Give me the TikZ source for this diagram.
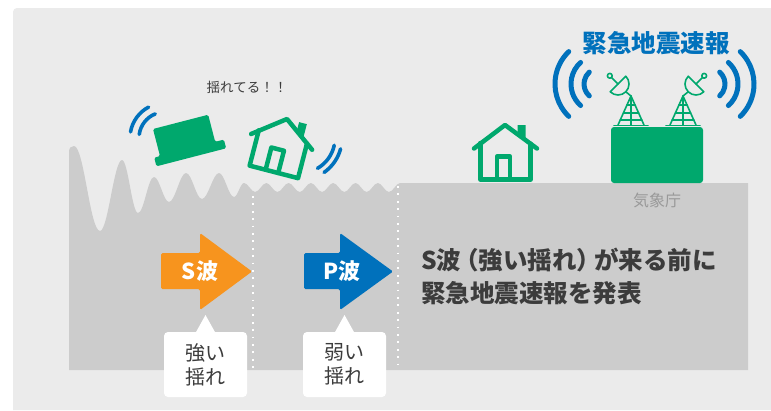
\documentclass[tikz,border=0pt]{standalone}
\usepackage{fontspec}
\newfontfamily\jp{Noto Sans CJK JP}
\definecolor{panelgray}{HTML}{EBEBEB}
\definecolor{groundgray}{HTML}{CCCCCC}
\definecolor{jgreen}{HTML}{00A86D}
\definecolor{jblue}{HTML}{0071BC}
\definecolor{jorange}{HTML}{F7941E}
\definecolor{inkgray}{HTML}{3C3C3C}
\definecolor{softgray}{HTML}{999999}

\tikzset{
  every node/.style={inner sep=0pt, outer sep=0pt},
  hline/.style={draw=jgreen, line width=4.5pt, line cap=round, line join=round},
  radiowave/.style={draw=jblue, line width=5pt, line cap=round},
  smallwave/.style={draw=jblue, line width=3.6pt, line cap=round},
  mast/.style={draw=jgreen, line width=1.6pt, line cap=round, line join=round},
  dotline/.style={draw=white, line width=1.8pt, dash pattern=on 1.8pt off 5.6pt},
  wavetag/.style={text=white, font=\jp\bfseries\fontsize{22}{26}\selectfont},
  callout/.style={fill=white, rounded corners=4pt, minimum width=83pt,
    minimum height=65pt, align=center, text=inkgray,
    font=\jp\fontsize{20}{24}\selectfont},
  leadtext/.style={anchor=west, text=inkgray, font=\jp\bfseries\fontsize{24.5}{29}\selectfont},
  % outlined house icon, origin at the roof apex (y grows downwards)
  house/.pic={
    \draw[hline] (-31,23.5) -- (0,0) -- (32,23.5);
    \draw[hline] (-24.5,18) -- (-24.5,54.5) -- (25.5,54.5) -- (25.5,18.7);
    \draw[hline] (-8,54.5) -- (-8,31.5) -- (5,31.5) -- (5,54.5);
    \fill[jgreen] (12.5,0) -- (20.5,0) -- (20.5,15) -- (12.5,9.2) -- cycle;
  },
  % lattice mast with a dish, origin at the mast top
  antenna/.pic={
    \draw[mast] (-13,29) -- (0,0) -- (13,29);
    \draw[mast] (-17,29.5) -- (17,29.5);
    \draw[mast] (0,0) -- (0,29);
    \draw[mast] (-4,9) -- (4,9);
    \draw[mast] (-7.6,17) -- (7.6,17);
    \draw[mast] (-10.8,24) -- (10.8,24);
    \draw[mast] (-13,-12) ++(-45:11) arc[start angle=-45, end angle=135, radius=11] -- cycle;
    \draw[mast] (-13,-12) -- ++(225:9);
    \draw[mast] (-13,-12) ++(225:11.6) circle[radius=2.4];
    \draw[mast] (-5.2,-4.2) -- (0,0);
  },
}

\begin{document}
\begin{tikzpicture}[x=1pt,y=-1pt]
\useasboundingbox (0,0) rectangle (771,410);
\fill[white] (0,0) rectangle (771,410);
\fill[panelgray] (13,410) -- (13,12) arc[start angle=180, end angle=270, radius=4]
  -- (771,8) -- (771,410) -- cycle;

% ground, with waves dying out towards the right
\fill[groundgray] (69,370) -- (69,152) .. controls +(0,-4) and +(-3,0) .. (74,146)
  .. controls +(10,0) and +(-10,0) .. (100,231)
  .. controls +(8,0) and +(-8,0) .. (122,160)
  .. controls +(6,0) and +(-6,0) .. (138,213)
  .. controls +(6,0) and +(-6,0) .. (154,177)
  .. controls +(5.5,0) and +(-5.5,0) .. (169,202)
  .. controls +(6,0) and +(-6,0) .. (186,173)
  .. controls +(6,0) and +(-6,0) .. (202,199)
  .. controls +(6,0) and +(-6,0) .. (219,173)
  .. controls +(5.5,0) and +(-5.5,0) .. (234,197)
  .. controls +(3.6,0) and +(-3.6,0) .. (244,183)
  \foreach \k in {0,...,6} {
    .. controls +(4,0) and +(-4,0) .. ({255.15+22.3*\k},192)
    .. controls +(4,0) and +(-4,0) .. ({266.3+22.3*\k},183)
  }
  -- (748,183) -- (748,370) -- cycle;

\draw[dotline] (253,196) -- (253,370);
\draw[dotline] (398,186) -- (398,370);

% toppled furniture and tilted house
\begin{scope}[shift={(153,129)}, rotate=14.5]
  \fill[jgreen, rounded corners=1.5pt] (0,0) -- (57,0) -- (57,28) -- (66,28)
    -- (66,37) -- (-6,37) -- (-6,28) -- (0,28) -- cycle;
\end{scope}
\pic[rotate=-14.5] at (287,119) {house};
\draw[smallwave] (165,138) ++(190:35) arc[start angle=190, end angle=242, radius=35];
\draw[smallwave] (165,138) ++(188:26) arc[start angle=188, end angle=248, radius=26];
\draw[smallwave] (300,138) ++(12:35) arc[start angle=12, end angle=60, radius=35];
\draw[smallwave] (300,138) ++(15:42) arc[start angle=15, end angle=55, radius=42];
\node[text=inkgray, font=\jp\fontsize{13.5}{16}\selectfont] (shake) at (247,87) {揺れてる！！};

% calm house
\pic at (505,125) {house};

% weather agency building
\node[fill=jgreen, rounded corners=3pt, minimum width=92pt, minimum height=56pt] (jma) at (657,155) {};
\pic at (631,96) {antenna};
\pic[xscale=-1] at (683,96) {antenna};
\node[text=softgray, font=\jp\fontsize{16}{19}\selectfont] (jmalabel) at (657,200) {気象庁};
\draw[radiowave] (600,84) ++(132:16) arc[start angle=132, end angle=228, radius=16];
\draw[radiowave] (600,84) ++(132:29) arc[start angle=132, end angle=228, radius=29];
\draw[radiowave] (600,84) ++(134:45) arc[start angle=134, end angle=226, radius=45];
\draw[radiowave] (709,84) ++(-48:16) arc[start angle=-48, end angle=48, radius=16];
\draw[radiowave] (709,84) ++(-48:29) arc[start angle=-48, end angle=48, radius=29];
\draw[radiowave] (709,84) ++(-46:45) arc[start angle=-46, end angle=46, radius=45];
\node[text=jblue, font=\jp\bfseries\fontsize{24.5}{29}\selectfont] (eew) at (656,43) {緊急地震速報};

% S and P wave arrows
\fill[jorange, rounded corners=1.5pt] (161,253) -- (200,253) -- (200,233) -- (252,271.5)
  -- (200,310) -- (200,289) -- (161,289) -- cycle;
\node[wavetag] (swave) at (200,271) {S波};
\fill[jblue, rounded corners=1.5pt] (304,253) -- (340,253) -- (340,233) -- (393,271.5)
  -- (340,310) -- (340,289) -- (304,289) -- cycle;
\node[wavetag] (pwave) at (342,271) {P波};

% callouts
\node[callout] (strongbox) at (205.5,364.5) {強い\\揺れ};
\fill[white] ([xshift=-10pt, yshift=-1pt]strongbox.north) -- ([yshift=17pt]strongbox.north)
  -- ([xshift=10pt, yshift=-1pt]strongbox.north) -- cycle;
\node[callout] (weakbox) at (344.5,364.5) {弱い\\揺れ};
\fill[white] ([xshift=-10pt, yshift=-1pt]weakbox.north) -- ([yshift=17pt]weakbox.north)
  -- ([xshift=10pt, yshift=-1pt]weakbox.north) -- cycle;

% message
\node[leadtext] (lead) at (421,260) {S波\kern-7pt（強い揺れ）\kern-7pt が来る前に};
\node[leadtext] (lead2) at (421,293) {緊急地震速報を発表};
\end{tikzpicture}
\end{document}
